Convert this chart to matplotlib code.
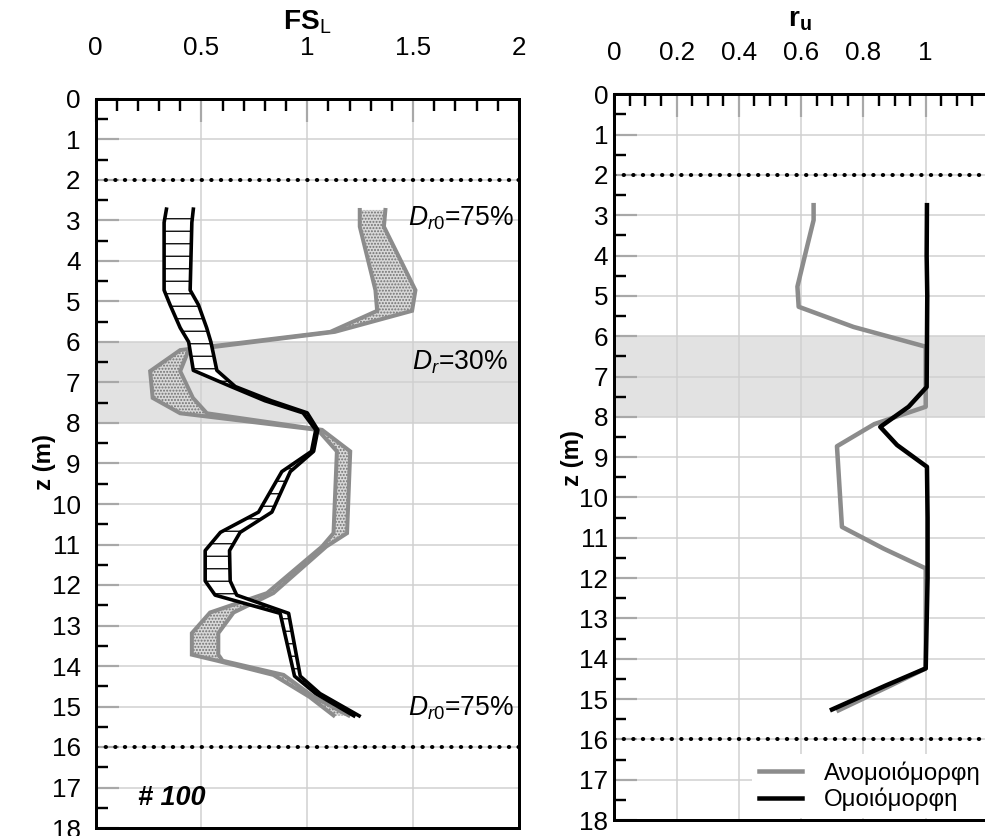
import matplotlib
matplotlib.use("Agg")
import matplotlib.pyplot as plt
from matplotlib.ticker import MultipleLocator, FixedLocator, FuncFormatter

plt.rcParams['font.family'] = ['Liberation Sans', 'DejaVu Sans']
plt.rcParams['mathtext.fontset'] = 'custom'
plt.rcParams['mathtext.rm'] = 'Liberation Sans'
plt.rcParams['mathtext.it'] = 'Liberation Sans:italic'
plt.rcParams['mathtext.bf'] = 'Liberation Sans:bold'

# ---- factor of safety against liquefaction, FS_L (left panel) ----
# uniform profile: band between two bounding curves
z_uni_fs = [2.72, 3.05, 4.72, 5.08, 5.65, 6.0, 6.7, 7.1, 7.45, 7.75, 8.17, 8.7,
            9.2, 10.2, 10.7, 11.15, 11.9, 12.25, 12.7, 14.25, 14.68, 15.23]
fs_uni_lo = [0.335, 0.324, 0.324, 0.352, 0.40, 0.44, 0.462, 0.64, 0.80, 0.98, 1.04, 1.02,
             0.88, 0.77, 0.59, 0.518, 0.518, 0.565, 0.872, 0.94, 1.04, 1.22]
fs_uni_hi = [0.462, 0.455, 0.447, 0.486, 0.525, 0.545, 0.573, 0.66, 0.83, 1.00, 1.05, 1.03,
             0.92, 0.833, 0.683, 0.633, 0.636, 0.667, 0.912, 0.967, 1.06, 1.245]

# non-uniform profile: band between two bounding curves
z_non_fs = [2.74, 3.15, 4.72, 5.23, 5.75, 6.2, 6.72, 7.38, 7.76, 8.17, 8.7, 10.72,
            11.05, 12.2, 12.68, 13.19, 13.72, 13.87, 14.22, 14.76, 15.22]
fs_non_lo = [1.248, 1.248, 1.322, 1.33, 1.109, 0.40, 0.258, 0.27, 0.40, 1.05, 1.14, 1.124,
             1.07, 0.81, 0.541, 0.455, 0.455, 0.575, 0.84, 1.01, 1.124]
fs_non_hi = [1.369, 1.362, 1.511, 1.495, 1.13, 0.44, 0.40, 0.46, 0.526, 1.07, 1.203, 1.188,
             1.09, 0.84, 0.652, 0.58, 0.58, 0.60, 0.888, 1.03, 1.195]

# ---- excess pore pressure ratio, r_u (right panel) ----
z_ru_non = [2.75, 3.12, 3.78, 4.77, 5.27, 5.77, 6.26, 7.75, 8.18, 8.73, 10.73, 11.27,
            11.76, 14.24, 14.67, 15.28]
ru_non = [0.64, 0.64, 0.619, 0.588, 0.592, 0.768, 1.0, 1.0, 0.835, 0.715, 0.731, 0.865,
          1.0, 1.0, 0.886, 0.72]
z_ru_uni = [2.75, 4.0, 5.0, 7.26, 7.75, 8.25, 8.7, 9.24, 10.5, 12.0, 14.24, 14.67, 15.26]
ru_uni = [1.004, 1.003, 1.005, 1.003, 0.945, 0.854, 0.908, 1.004, 1.006, 1.006, 1.0, 0.87, 0.699]

legend_labels = ['Ανομοιόμορφη', 'Ομοιόμορφη']
fs_ticks = [0, 0.5, 1, 1.5, 2]
ru_ticks = [0, 0.2, 0.4, 0.6, 0.8, 1.0]

DPI = 75
W, H = 985, 836


def pt(p):
    """pixels -> points"""
    return p * 72.0 / DPI


fig = plt.figure(figsize=(W / DPI, H / DPI), dpi=DPI)
ax1 = fig.add_axes([95.5 / W, 1 - 828 / H, (519 - 95.5) / W, (828 - 99) / H])
ax2 = fig.add_axes([614.3 / W, 1 - 820 / H, (988 - 614.3) / W, (820 - 94.3) / H])

fmt = FuncFormatter(lambda v, p: f'{v:g}')
TICK_FS = pt(26)


def style(ax, xmax, xticks, xminor, xpad, ypad):
    ax.set_xlim(0, xmax)
    ax.set_ylim(18, 0)
    ax.xaxis.tick_top()
    ax.xaxis.set_major_locator(FixedLocator(xticks))
    ax.xaxis.set_minor_locator(MultipleLocator(xminor))
    ax.xaxis.set_major_formatter(fmt)
    ax.yaxis.set_major_locator(MultipleLocator(1))
    ax.yaxis.set_minor_locator(MultipleLocator(0.5))
    ax.tick_params(which='both', top=True, bottom=False, left=True, right=False)
    ax.tick_params(which='major', direction='in', length=pt(23), width=pt(2.2),
                   color='#a8a8a8', labelsize=TICK_FS)
    ax.tick_params(which='minor', direction='in', length=pt(12), width=pt(2.4), color='black')
    ax.tick_params(axis='x', which='major', pad=pt(xpad))
    ax.tick_params(axis='y', which='major', pad=pt(ypad))
    ax.grid(which='major', color='#d0d0d0', lw=pt(1.5))
    ax.set_axisbelow(True)
    for s in ax.spines.values():
        s.set_linewidth(pt(3))
        s.set_color('black')
    ax.axhspan(6, 8, facecolor='#e2e2e2', lw=0, zorder=0)
    for zline in (2, 16):
        ax.axhline(zline, color='black', lw=pt(4), linestyle=(0, (0.1, 2.3)),
                   dash_capstyle='round', zorder=3)


style(ax1, 2, fs_ticks, 0.1, 39, 15)
style(ax2, 1.2, ru_ticks, 0.05, 29, 6)

# left panel bands
plt.rcParams['hatch.linewidth'] = pt(1.3)
ax1.fill_betweenx(z_non_fs, fs_non_lo, fs_non_hi, facecolor='#d8d8d8',
                  edgecolor='#707070', hatch='....', lw=0, zorder=2)
ax1.plot(fs_non_lo, z_non_fs, color='#8c8c8c', lw=pt(4), zorder=2.5, solid_joinstyle='miter')
ax1.plot(fs_non_hi, z_non_fs, color='#8c8c8c', lw=pt(4), zorder=2.5, solid_joinstyle='miter')

ax1.fill_betweenx(z_uni_fs, fs_uni_lo, fs_uni_hi, facecolor='white',
                  edgecolor='black', hatch='-', lw=0, zorder=2.6)
ax1.plot(fs_uni_lo, z_uni_fs, color='black', lw=pt(3.6), zorder=2.8)
ax1.plot(fs_uni_hi, z_uni_fs, color='black', lw=pt(3.6), zorder=2.8)

ANN_FS = pt(26.5)
ax1.text(1.478, 3.12, r'$\mathit{D}_{\mathit{r0}}$=75%', fontsize=ANN_FS, va='baseline', ha='left')
ax1.text(1.495, 6.69, r'$\mathit{D}_{\mathit{r}}$=30%', fontsize=ANN_FS, va='baseline', ha='left')
ax1.text(1.478, 15.21, r'$\mathit{D}_{\mathit{r0}}$=75%', fontsize=ANN_FS, va='baseline', ha='left')
ax1.text(0.2, 17.43, '# 100', fontsize=pt(27), fontweight='bold', fontstyle='italic',
         va='baseline', ha='left')

# right panel lines
ax2.plot(ru_non, z_ru_non, color='#8c8c8c', lw=pt(4.5), label=legend_labels[0], zorder=3)
ax2.plot(ru_uni, z_ru_uni, color='black', lw=pt(4.5), label=legend_labels[1], zorder=3.2)
ax2.legend(loc='upper left', bbox_to_anchor=(752 / W, 1 - 754 / H),
           bbox_transform=fig.transFigure, frameon=True, fancybox=False, framealpha=1,
           edgecolor='none', facecolor='white', fontsize=pt(24), handlelength=1.8,
           handletextpad=0.9, borderpad=0.3, labelspacing=0.12, borderaxespad=0)

# axis titles
fig.text(307 / W, 1 - 22 / H, r'$\mathbf{FS}_{\mathrm{L}}$', fontsize=pt(28),
         ha='center', va='center')
fig.text(800 / W, 1 - 20 / H, r'$\mathbf{r}_{\mathbf{u}}$', fontsize=pt(28),
         ha='center', va='center')
fig.text(45 / W, 1 - 462 / H, 'z (m)', rotation=90, fontweight='bold', fontsize=pt(24),
         ha='center', va='center')
fig.text(572 / W, 1 - 458 / H, 'z (m)', rotation=90, fontweight='bold', fontsize=pt(24),
         ha='center', va='center')

fig.savefig('out.png', dpi=DPI)
